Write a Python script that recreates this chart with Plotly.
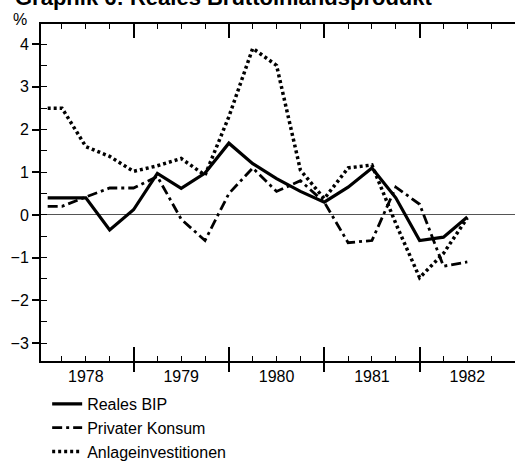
import plotly.graph_objects as go

# ---- data (quarterly change, %) ----
quarters = [1978.1, 1978.25, 1978.5, 1978.75, 1979.0, 1979.25, 1979.5, 1979.75,
            1980.0, 1980.25, 1980.5, 1980.75, 1981.0, 1981.25, 1981.5, 1981.75,
            1982.0, 1982.25, 1982.5]
reales_bip = [0.4, 0.4, 0.4, -0.35, 0.12, 0.97, 0.62, 0.98,
              1.68, 1.2, 0.85, 0.55, 0.3, 0.65, 1.1, 0.4,
              -0.6, -0.52, -0.05]
privater_konsum = [0.2, 0.2, 0.42, 0.63, 0.63, 0.9, -0.1, -0.6,
                   0.5, 1.1, 0.55, 0.8, 0.3, -0.65, -0.6, 0.65,
                   0.25, -1.2, -1.1]
anlageinvestitionen = [2.5, 2.5, 1.6, 1.37, 1.02, 1.15, 1.32, 0.93,
                       2.3, 3.9, 3.5, 1.05, 0.38, 1.1, 1.17, -0.2,
                       -1.47, -0.9, -0.07]
years = [1978, 1979, 1980, 1981, 1982]
year_labels = ["1978", "1979", "1980", "1981", "1982"]
y_ticks = [-3, -2, -1, 0, 1, 2, 3, 4]

FONT = "Liberation Sans, Arial, Helvetica, sans-serif"
xr = [1978.03, 1983.0]
yr = [-3.42, 4.47]

fig = go.Figure()
fig.add_trace(go.Scatter(x=quarters, y=reales_bip, mode="lines", name="Reales BIP",
                         line=dict(color="black", width=3.2)))
fig.add_trace(go.Scatter(x=quarters, y=privater_konsum, mode="lines", name="Privater Konsum",
                         line=dict(color="black", width=2.8, dash="10px,4px,3px,4px")))
fig.add_trace(go.Scatter(x=quarters, y=anlageinvestitionen, mode="lines", name="Anlageinvestitionen",
                         line=dict(color="black", width=3.5, dash="3px,3px")))

quarter_ticks = [y + q / 4 for y in years for q in range(4)] + [years[-1] + 1]
year_bounds = [y for y in years[1:]]

fig.update_layout(
    width=515, height=463,
    margin=dict(l=41, r=0, t=24, b=102, autoexpand=False),
    paper_bgcolor="white", plot_bgcolor="white",
    font=dict(family=FONT, size=16, color="black"),
    showlegend=True,
    legend=dict(orientation="v", x=0.013, xanchor="left", y=-0.077, yanchor="top",
                bgcolor="rgba(0,0,0,0)", font=dict(size=16), tracegroupgap=0),
    xaxis=dict(range=xr, tickvals=[y + 0.5 for y in years], ticktext=year_labels,
               ticks="", showline=True, linecolor="black", linewidth=2, mirror="ticks",
               showgrid=False, zeroline=False,
               minor=dict(tickvals=quarter_ticks, ticks="inside", ticklen=5,
                          tickwidth=1, tickcolor="black", showgrid=False)),
    xaxis2=dict(range=xr, overlaying="x", anchor="y", side="bottom",
                tickvals=year_bounds, ticks="inside", ticklen=14, tickwidth=1.5,
                tickcolor="black", showticklabels=False, showline=True,
                linecolor="black", linewidth=2, mirror="ticks",
                showgrid=False, zeroline=False),
    xaxis3=dict(range=xr, overlaying="x", anchor="y", side="bottom",
                tickvals=year_bounds, ticks="outside", ticklen=10, tickwidth=1.5,
                tickcolor="black", showticklabels=False, showline=False,
                showgrid=False, zeroline=False),
    yaxis=dict(range=yr, tickvals=y_ticks, ticks="outside", ticklen=7, tickwidth=1.5,
               tickcolor="black", showline=True, linecolor="black", linewidth=2,
               showgrid=False, zeroline=True, zerolinecolor="#555", zerolinewidth=1,
               tickfont=dict(size=16),
               minor=dict(dtick=0.5, ticks="inside", ticklen=6, tickwidth=1,
                          tickcolor="black", showgrid=False)),
    annotations=[
        dict(text="%", xref="paper", yref="paper", x=-0.045, y=0.982, xanchor="center",
             yanchor="bottom", showarrow=False, font=dict(size=16)),
        dict(text="<b>Graphik 6: Reales Bruttoinlandsprodukt</b>", xref="paper", yref="paper",
             x=-0.06, y=1.036, xanchor="left", yanchor="bottom", showarrow=False,
             font=dict(size=22)),
    ],
)
# invisible traces so the extra tick axes render
fig.add_trace(go.Scatter(x=[xr[0]], y=[0], xaxis="x2", mode="markers",
                         marker=dict(opacity=0), showlegend=False, hoverinfo="skip"))
fig.add_trace(go.Scatter(x=[xr[0]], y=[0], xaxis="x3", mode="markers",
                         marker=dict(opacity=0), showlegend=False, hoverinfo="skip"))

fig.write_html("out.html", config={"displayModeBar": False},
               post_script="document.body.style.margin='0px';document.body.style.overflow='hidden';")
